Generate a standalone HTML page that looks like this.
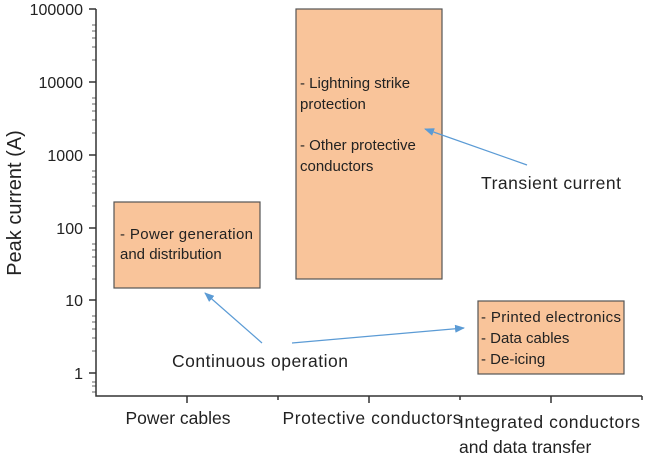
<!DOCTYPE html>
<html><head><style>
body{margin:0;background:#fff;}
svg{display:block;}
.t{font-family:"Liberation Sans",Arial,sans-serif;fill:#222;}
.b{font-family:"Liberation Sans",Arial,sans-serif;font-size:15px;fill:#222;}
</style></head><body>
<svg width="645" height="456" viewBox="0 0 645 456">
<defs><marker id="a" markerWidth="10" markerHeight="8" refX="9" refY="4" orient="auto" markerUnits="userSpaceOnUse"><path d="M0,0 L10,4 L0,8 z" fill="#5b9bd5"/></marker></defs>
<g stroke="#555" stroke-width="1.2">
<rect x="114" y="202" width="146" height="86" fill="#f9c49a"/>
<rect x="296" y="9" width="146" height="270" fill="#f9c49a"/>
<rect x="478" y="301" width="146" height="73" fill="#f9c49a"/>
</g>
<g stroke="#333" stroke-width="1.5" fill="none">
<path d="M96,9 V396 H642"/>
<path d="M96,9h-7M96,82h-7M96,155h-7M96,228h-7M96,300h-7M96,373h-7"/>
<path d="M187,396v7M369,396v7M551,396v7M278,396v4M460,396v4M642,396v4"/>
</g>
<g stroke="#333" stroke-width="0.8">
<path d="M96,60h-4M96,47h-4M96,38h-4M96,31h-4M96,25h-4M96,133h-4M96,120h-4M96,111h-4M96,104h-4M96,98h-4M96,206h-4M96,193h-4M96,184h-4M96,177h-4M96,171h-4M96,279h-4M96,266h-4M96,257h-4M96,250h-4M96,244h-4M96,351h-4M96,338h-4M96,329h-4M96,322h-4M96,316h-4M96,392h-4M96,386h-4M96,382h-4"/>
</g>
<g class="t" font-size="16" text-anchor="end">
<text x="83" y="15">100000</text><text x="83" y="88">10000</text><text x="83" y="161">1000</text>
<text x="83" y="234">100</text><text x="83" y="306">10</text><text x="83" y="379">1</text>
</g>
<text class="t" font-size="20" text-anchor="middle" transform="translate(21,203) rotate(-90)">Peak current (A)</text>
<g class="t" font-size="17.5">
<text x="178" y="424" text-anchor="middle">Power cables</text>
<text x="372" y="424" text-anchor="middle" textLength="179">Protective conductors</text>
<text x="459" y="428" textLength="181">Integrated conductors</text>
<text x="459" y="453">and data transfer</text>
</g>
<g class="b">
<text x="120" y="239" textLength="133">- Power generation</text><text x="120" y="259">and distribution</text>
<text x="300" y="88">- Lightning strike</text><text x="300" y="109">protection</text>
<text x="300" y="150">- Other protective</text><text x="300" y="171">conductors</text>
<text x="481" y="322" textLength="140">- Printed electronics</text><text x="481" y="343">- Data cables</text><text x="481" y="364">- De-icing</text>
</g>
<g class="t" font-size="17.5">
<text x="481" y="189" textLength="140">Transient current</text>
<text x="172" y="367" textLength="176">Continuous operation</text>
</g>
<g stroke="#5b9bd5" stroke-width="1.2" fill="none">
<path d="M262,343 L205,293" marker-end="url(#a)"/>
<path d="M292,343 L464,328" marker-end="url(#a)"/>
<path d="M527,165 L425,129" marker-end="url(#a)"/>
</g>
</svg>
</body></html>
